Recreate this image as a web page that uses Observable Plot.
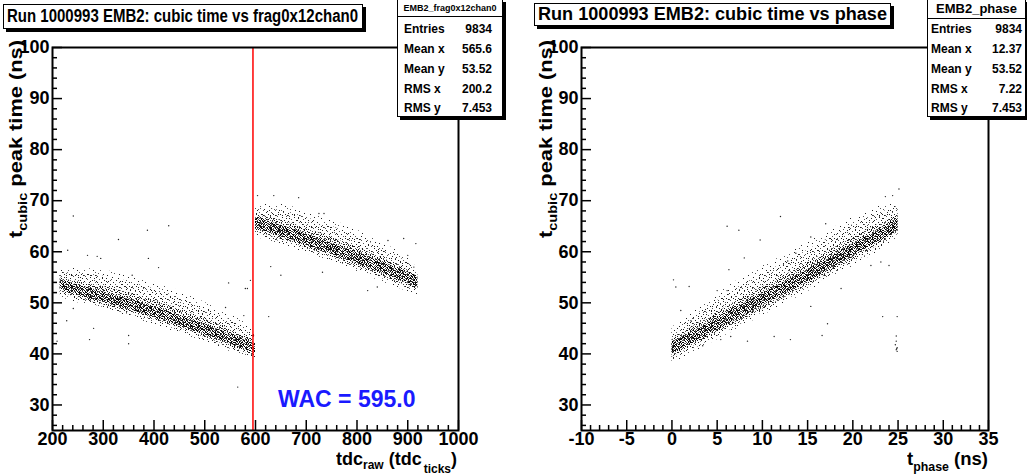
<!DOCTYPE html>
<html>
<head>
<meta charset="utf-8">
<script src="https://cdn.jsdelivr.net/npm/d3@7"></script>
<script src="https://cdn.jsdelivr.net/npm/@observablehq/plot@0.6"></script>
<style>
html,body{margin:0;padding:0;background:#fff;}
#root{position:relative;width:1027px;height:475px;overflow:hidden;font-family:"Liberation Sans",Arial,Helvetica,sans-serif;font-weight:bold;color:#000;}
.panel{position:absolute;top:0;}
.box{position:absolute;background:#fff;border:1px solid #000;box-shadow:3px 3px 0 #000;box-sizing:border-box;}
.txt{position:absolute;white-space:nowrap;display:inline-block;transform-origin:0 0;}
.row{position:absolute;font-size:12px;line-height:12px;white-space:nowrap;}
.sub{font-size:12px;position:relative;line-height:0;}
</style>
</head>
<body>
<svg width="0" height="0" style="position:absolute">
  <defs id="pdefs"></defs>
</svg>
<div id="root"></div>
<script>
// ---------- data ----------
const wac = 595.0;

// left panel, band before WAC (tdc ticks, ns)
const bandAX = [215, 240, 265, 290, 315, 340, 365, 390, 415, 440, 465, 490, 515, 540, 565, 590, 600];
const bandAC = [53.6, 52.8, 52.1, 51.4, 50.7, 50.0, 49.3, 48.5, 47.7, 46.9, 46.0, 45.1, 44.2, 43.3, 42.4, 41.4, 41.0];
const bandAUp = [2.5, 3.0, 3.5, 4.0, 4.2, 4.4, 4.5, 4.5, 4.5, 4.5, 4.3, 4.2, 4.0, 3.8, 3.5, 3.2, 2.5];
const bandADn = [2.0, 2.0, 2.0, 2.0, 2.0, 2.0, 2.0, 2.0, 2.0, 2.0, 2.0, 2.0, 2.0, 2.0, 2.0, 2.0, 1.8];

// left panel, band after WAC
const bandBX = [600, 625, 650, 675, 700, 725, 750, 775, 800, 825, 850, 875, 900, 920];
const bandBC = [65.6, 64.9, 64.1, 63.3, 62.4, 61.5, 60.6, 59.7, 58.8, 57.8, 56.9, 55.9, 54.9, 54.1];
const bandBUp = [2.8, 3.5, 4.0, 4.2, 4.3, 4.4, 4.4, 4.3, 4.2, 4.0, 3.8, 3.5, 3.0, 2.0];
const bandBDn = [2.2, 2.2, 2.2, 2.2, 2.2, 2.2, 2.2, 2.2, 2.2, 2.2, 2.2, 2.2, 2.2, 2.0];

// right panel band (t_phase ns, ns)
const bandCX = [0, 2.5, 5, 7.5, 10, 12.5, 15, 17.5, 20, 22.5, 25];
const bandCC = [41.2, 43.5, 45.9, 48.2, 50.6, 52.9, 55.3, 57.8, 60.3, 62.8, 65.4];
const bandCUp = [3.0, 4.0, 4.5, 5.0, 5.0, 5.0, 5.0, 5.0, 5.0, 4.5, 3.5];
const bandCDn = [2.5, 2.5, 2.5, 2.5, 2.5, 2.5, 2.5, 2.5, 2.5, 2.5, 2.0];

const coreHalf = [1.0, 1.1, 1.2];

const outLeft = [[241,67.0],[429,65.1],[387,64.2],[330,62.4],[230,60.3],[389,58.7],[269,59.3],[288,59.1],[295,58.7],
  [409,56.9],[357,55.4],[547,53.9],[584,52.8],[228,46.5],[241,48.9],[281,45.0],[350,43.6],[350,42.0],[273,42.8],
  [209,42.5],[541,49.1],[577,47.5],[596,43.6],[626,47.3],[590,54.4],[604,71.0],[636,71.0],[685,70.6],[725,67.5],
  [735,67.5],[861,62.2],[892,62.6],[650,55.4],[630,57.1],[732,56.0],[821,52.4],[840,53.1],[580,52.8],[916,61.6],
  [900,59.3],[912,57.0],[565,33.5]];

const outRight = [[12.0,66.9],[6.1,65.0],[7.4,64.2],[9.75,62.3],[6.3,56.5],[0.17,54.5],[0.43,53.1],[1.9,53.2],
  [5.0,52.4],[6.1,52.4],[0.98,48.5],[2.1,46.5],[3.4,41.6],[5.4,42.8],[6.5,43.4],[8.35,42.5],[11.3,43.4],[13.1,42.8],
  [16.6,43.6],[15.35,49.3],[17.2,45.9],[18.7,52.8],[22.0,57.3],[23.1,58.0],[24.0,57.3],[23.3,47.3],[24.9,47.3],
  [25.1,72.3],[24.4,71.0],[23.6,70.8],[24.8,43.5],[24.8,42.5],[24.7,41.8],[24.9,41.2],[24.8,40.8],[24.9,40.5],
  [24.85,41.0],[8.0,58.8],[12.8,58.2],[13.7,59.7],[17.0,65.5],[15.35,62.9]];

const yMajor = [30, 40, 50, 60, 70, 80, 90, 100];
const xMajorL = [200, 300, 400, 500, 600, 700, 800, 900, 1000];
const xMajorR = [-10, -5, 0, 5, 10, 15, 20, 25, 30, 35];

const statsLeft = {name: "EMB2_frag0x12chan0", labels: ["Entries","Mean x","Mean y","RMS x","RMS y"], values: ["9834","565.6","53.52","200.2","7.453"]};
const statsRight = {name: "EMB2_phase", labels: ["Entries","Mean x","Mean y","RMS x","RMS y"], values: ["9834","12.37","53.52","7.22","7.453"]};

// ---------- stipple patterns (style only) ----------
function pattern(id, size, pts, col) {
  return `<pattern id="${id}" patternUnits="userSpaceOnUse" width="${size}" height="${size}">` +
    pts.map(([x,y], i) => `<rect x="${x}" y="${y}" width="1" height="1" fill="${i % 3 === 0 ? "#555" : col}"/>`).join("") + `</pattern>`;
}
document.getElementById("pdefs").innerHTML =
  pattern("stipOuter", 16, [[2,1],[11,3],[6,6],[14,8],[1,10],[9,12],[4,14],[13,14],[7,2],[15,0],[0,5],[10,9]], "#222") +
  pattern("stipHalo", 12, [[1,0],[6,1],[10,2],[3,3],[8,4],[0,5],[11,6],[5,6],[2,8],[7,8],[9,10],[4,10],[0,11],[6,11],[11,11]], "#222") +
  pattern("stipMid", 10, [[0,0],[4,0],[7,1],[2,1],[9,2],[5,2],[1,3],[6,4],[3,4],[8,4],[0,5],[4,6],[9,6],[2,6],[7,7],[5,8],[1,8],[8,9],[3,9],[6,9],[0,7],[9,8]], "#111") +
  pattern("stipCore", 8, [[0,0],[2,0],[5,0],[7,1],[1,1],[3,1],[6,2],[4,2],[0,2],[2,3],[5,3],[7,3],[1,4],[3,4],[6,4],[0,5],[4,5],[2,6],[5,6],[7,6],[1,6],[3,7],[6,7],[0,7],[4,7],[7,5]], "#000");

function band(xs, cs, up, dn, core) {
  return xs.map((x, i) => ({
    x,
    olo: cs[i] - dn[i] * 1.25, ohi: cs[i] + up[i] * 1.3,
    lo: cs[i] - dn[i], hi: cs[i] + up[i],
    mlo: cs[i] - dn[i] * 0.75, mhi: cs[i] + up[i] * 0.5,
    clo: cs[i] - core, chi: cs[i] + core
  }));
}
const bandA = band(bandAX, bandAC, bandAUp, bandADn, coreHalf[0]);
const bandB = band(bandBX, bandBC, bandBUp, bandBDn, coreHalf[1]);
const bandC = band(bandCX, bandCC, bandCUp, bandCDn, coreHalf[2]);

const FONT = '"Liberation Sans", Arial, Helvetica, sans-serif';
const yMinor = d3.range(26, 100.1, 2).filter(v => !yMajor.includes(v));

function makePanel(cfg) {
  const xMinor = d3.range(cfg.xDomain[0], cfg.xDomain[1] + 1e-9, cfg.minorStep).filter(v => !cfg.xMajor.some(m => Math.abs(m - v) < 1e-9));
  return Plot.plot({
    width: cfg.width, height: 475,
    marginLeft: cfg.ml, marginRight: cfg.mr, marginTop: 47, marginBottom: 45,
    x: {domain: cfg.xDomain}, y: {domain: [25, 100]},
    style: {fontFamily: FONT, fontWeight: "bold", background: "transparent", color: "#000", overflow: "visible"},
    marks: [
      ...cfg.bands.flatMap(b => [
        Plot.areaY(b, {x: "x", y1: "olo", y2: "ohi", fill: "url(#stipOuter)"}),
        Plot.areaY(b, {x: "x", y1: "lo", y2: "hi", fill: "url(#stipHalo)"}),
        Plot.areaY(b, {x: "x", y1: "mlo", y2: "mhi", fill: "url(#stipMid)"}),
        Plot.areaY(b, {x: "x", y1: "clo", y2: "chi", fill: "url(#stipCore)"})
      ]),
      Plot.dot(cfg.out, {x: d => d[0], y: d => d[1], r: 0.7, fill: "#222"}),
      ...cfg.extra,
      Plot.frame({stroke: "#000", strokeWidth: 2}),
      Plot.axisY(yMinor, {anchor: "left", tickSize: -5, tickFormat: () => "", strokeWidth: 1.5, label: null}),
      Plot.axisY(yMajor, {anchor: "left", tickSize: -10, tickPadding: 13, fontSize: 18, fontWeight: "bold", strokeWidth: 1.5, label: null}),
      Plot.axisX(xMinor, {anchor: "bottom", tickSize: -5, tickFormat: () => "", strokeWidth: 1.5, label: null}),
      Plot.axisX(cfg.xMajor, {anchor: "bottom", tickSize: -10, tickPadding: 12, fontSize: 18, fontWeight: "bold", strokeWidth: 1.5, label: null, tickFormat: d => String(d)})
    ]
  });
}

const root = document.getElementById("root");

const left = makePanel({
  width: 513, ml: 52, mr: 55, xDomain: [200, 1000], xMajor: xMajorL, minorStep: 20,
  bands: [bandA, bandB], out: outLeft,
  extra: [
    Plot.ruleX([wac], {stroke: "#ff0000", strokeWidth: 1.5}),
    Plot.text([`WAC = ${wac.toFixed(1)}`], {frameAnchor: "bottom-right", dx: -43, dy: -24, textAnchor: "end", lineAnchor: "bottom", fill: "#1a1aff", fontSize: 23, fontWeight: "bold"})
  ]
});
left.classList.add("panel"); left.style.left = "0px";
root.appendChild(left);

const right = makePanel({
  width: 514, ml: 68, mr: 39, xDomain: [-10, 35], xMajor: xMajorR, minorStep: 1,
  bands: [bandC], out: outRight, extra: []
});
right.classList.add("panel"); right.style.left = "513px";
root.appendChild(right);

// ---------- text helpers ----------
function placeText(html, {left, baseline, width, size, rotate = false, color = "#000", lh = null}) {
  const L = lh == null ? size : lh;
  const el = document.createElement("div");
  el.className = "txt";
  el.style.fontSize = size + "px";
  el.style.lineHeight = L + "px";
  el.style.color = color;
  el.innerHTML = html;
  root.appendChild(el);
  const w = el.getBoundingClientRect().width;
  const k = width ? width / w : 1;
  const b = (L - 1.117 * size) / 2 + 0.905 * size;
  if (!rotate) {
    el.style.left = left + "px";
    el.style.top = (baseline - b) + "px";
    el.style.transform = `scaleX(${k})`;
  } else {
    el.style.left = (baseline - b) + "px";
    el.style.top = left + "px";
    el.style.transform = `rotate(-90deg) scaleX(${k})`;
  }
  return el;
}

function titleBox(text, {x, y, w, h, tx, tb, tw}) {
  const box = document.createElement("div");
  box.className = "box";
  Object.assign(box.style, {left: x + "px", top: y + "px", width: w + "px", height: h + "px"});
  root.appendChild(box);
  placeText(text, {left: tx, baseline: tb, width: tw, size: 18});
}

titleBox("Run 1000993 EMB2: cubic time vs frag0x12chan0", {x: 3, y: 4, w: 360, h: 25, tx: 7, tb: 22.7, tw: 351});
titleBox("Run 1000993 EMB2: cubic time vs phase", {x: 534, y: 3, w: 357, h: 23, tx: 538, tb: 20.7, tw: 349});

function statsBox(s, {x, w, headH, headSize, labX, valR}) {
  const box = document.createElement("div");
  box.className = "box";
  Object.assign(box.style, {left: x + "px", top: "-1px", width: w + "px", height: "118px"});
  root.appendChild(box);
  const head = document.createElement("div");
  Object.assign(head.style, {position: "absolute", left: "0", top: "0", width: "100%", height: headH + "px",
    borderBottom: "1px solid #000", fontSize: headSize + "px", lineHeight: headH + "px", textAlign: "center", whiteSpace: "nowrap"});
  head.textContent = s.name;
  box.appendChild(head);
  const centers = [29, 49.3, 69, 88.5, 108];
  s.labels.forEach((lab, i) => {
    const l = document.createElement("div");
    l.className = "row";
    Object.assign(l.style, {left: (labX - x - 1) + "px", top: (centers[i] - 6) + "px"});
    l.textContent = lab;
    box.appendChild(l);
    const v = document.createElement("div");
    v.className = "row";
    Object.assign(v.style, {right: (x + w - valR - 1) + "px", top: (centers[i] - 6) + "px", textAlign: "right"});
    v.textContent = s.values[i];
    box.appendChild(v);
  });
}
statsBox(statsLeft, {x: 397, w: 106, headH: 16, headSize: 9, labX: 404, valR: 492});
statsBox(statsRight, {x: 927, w: 99, headH: 18, headSize: 13, labX: 931, valR: 1022});

// axis titles
const yTitle = 't<span class="sub" style="top:5px">cubic</span> peak time (ns)';
placeText(yTitle, {left: 238, baseline: 22.5, width: 198, size: 18, rotate: true});
placeText(yTitle, {left: 238, baseline: 552.5, width: 198, size: 18, rotate: true});
placeText('tdc<span class="sub" style="top:4px">raw</span> (tdc<span style="display:inline-block;width:2px"></span><span class="sub" style="top:8px">ticks</span>)',
  {left: 336, baseline: 465.5, width: 121, size: 18, lh: 12});
placeText('t<span class="sub" style="top:6px">phase</span> (ns)', {left: 907, baseline: 465.5, width: 81, size: 18, lh: 12});
</script>
</body>
</html>
